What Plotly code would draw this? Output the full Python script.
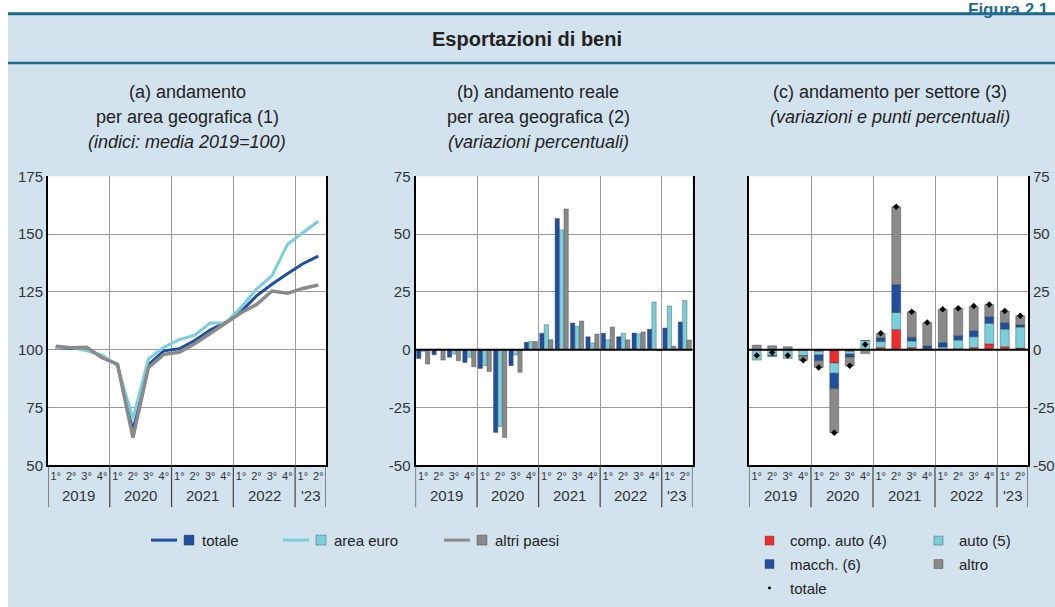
import plotly.graph_objects as go

W, H = 1055, 607
FONT = "Liberation Sans, Arial, sans-serif"

# ---------------- data ----------------
quarter_labels = ["1°", "2°", "3°", "4°"] * 4 + ["1°", "2°"]
year_labels = ["2019", "2020", "2021", "2022", "'23"]
year_centers = [1.5, 5.5, 9.5, 13.5, 16.5]
year_bounds = [3.5, 7.5, 11.5, 15.5]
qidx = list(range(18))

# (a) indices, 2019 average = 100
idx_totale = [101.0, 100.5, 100.5, 97.0, 93.5, 65.0, 93.5, 99.5, 100.4, 104.0, 108.5, 111.8,
              116.5, 123.3, 128.3, 132.9, 137.2, 140.5]
idx_euro = [100.8, 101.0, 99.5, 97.8, 93.0, 70.0, 96.0, 101.0, 104.3, 106.3, 111.5, 111.5,
            118.3, 126.2, 132.0, 145.5, 150.6, 155.6]
idx_altri = [101.5, 100.8, 101.0, 96.5, 93.7, 62.0, 92.2, 98.0, 98.9, 102.6, 107.0, 111.4,
             116.0, 119.5, 125.4, 124.4, 126.5, 128.0]

# (b) real changes, %
var_totale = [-3.8, -2.2, -3.3, -5.5, -8.1, -35.8, -6.9, 3.2, 7.1, 56.8, 11.5, 5.6,
              7.1, 5.6, 7.2, 8.8, 9.4, 12.0]
var_euro = [-0.7, 0.3, -1.9, -3.3, -6.9, -33.2, -2.3, 3.5, 10.8, 51.8, 10.1, 2.9,
            4.3, 7.1, 6.8, 20.6, 18.9, 21.3]
var_altri = [-6.2, -4.5, -4.8, -7.4, -9.4, -38.0, -9.8, 3.5, 4.3, 60.9, 12.4, 6.8,
             9.8, 4.3, 7.7, -0.5, 1.5, 4.2]

# (c) by sector, contributions (percentage points)
sett_comp_auto = [0.0, 0.0, 0.0, 0.0, -0.7, -5.8, -0.7, 0.0, 1.0, 8.7, 0.9, 0.1,
                  0.2, 0.4, 1.0, 2.5, 1.3, 0.7]
sett_auto = [-4.5, -2.5, -3.8, -2.6, -1.6, -4.4, -1.2, 4.0, 2.5, 7.4, 2.9, 0.3,
             1.0, 3.8, 4.6, 8.9, 7.6, 9.1]
sett_macch = [0.0, -0.4, 0.0, -0.2, -2.5, -6.7, -1.3, 0.0, 1.7, 12.1, 1.6, 1.2,
              1.9, 1.9, 2.6, 2.9, 2.7, 1.0]
sett_altro = [2.0, 1.7, 1.3, -1.8, -2.9, -19.0, -3.8, -1.7, 1.8, 33.7, 11.0, 10.2,
              14.4, 11.8, 10.5, 5.3, 5.1, 3.9]
sett_totale = [-2.5, -1.2, -2.5, -4.6, -7.7, -35.9, -7.0, 2.3, 7.1, 61.8, 16.4, 11.8,
               17.5, 17.9, 18.9, 19.6, 16.7, 14.7]

ya_vals = [50, 75, 100, 125, 150, 175]
ya_text = ["50", "75", "100", "125", "150", "175"]
yb_vals = [-50, -25, 0, 25, 50, 75]
yb_text = ["-50", "-25", "0", "25", "50", "75"]

# ---------------- styles ----------------
C_TOT = "#1f4f9e"
C_EURO = "#7bcfdb"
C_ALTRI = "#8a8a8a"
C_RED = "#ec2d2d"
BG = "#d3e3ed"
TEAL = "#1f6b8c"
GRID = "#9a9a9a"
OUTLINE = dict(color="rgba(60,60,60,0.65)", width=0.6)


def px(x):
    return x / W


def py(y):
    # target picture y (pixels from top) -> paper fraction
    t = (y - 7.8) / 0.974
    return 1 - t / H


YDOM = [py(465), py(175.5)]
XDOM_A = [px(48), px(326)]
XDOM_B = [px(415.5), px(692.5)]
XDOM_C = [px(749), px(1028)]

fig = go.Figure()

# ---- panel (a) lines ----
for name, vals, col, w in [("totale", idx_totale, C_TOT, 3),
                           ("area euro", idx_euro, C_EURO, 3),
                           ("altri paesi", idx_altri, C_ALTRI, 3.5)]:
    fig.add_trace(go.Scatter(x=qidx, y=vals, mode="lines", name=name,
                             line=dict(color=col, width=w), xaxis="x", yaxis="y",
                             showlegend=False))

# ---- panel (b) grouped bars (each series on its own overlaid x axis) ----
for name, vals, col, xa, off in [("totale", var_totale, C_TOT, "x2", -0.43),
                                 ("area euro", var_euro, C_EURO, "x4", -0.14),
                                 ("altri paesi", var_altri, C_ALTRI, "x5", 0.15)]:
    fig.add_trace(go.Bar(x=qidx, y=vals, name=name, marker=dict(color=col, line=OUTLINE),
                         width=0.28, offset=off, xaxis=xa, yaxis="y2", showlegend=False))

# ---- panel (c) stacked bars ----
for name, vals, col in [("comp. auto (4)", sett_comp_auto, C_RED),
                        ("auto (5)", sett_auto, C_EURO),
                        ("macch. (6)", sett_macch, C_TOT),
                        ("altro", sett_altro, C_ALTRI)]:
    fig.add_trace(go.Bar(x=qidx, y=vals, name=name, marker=dict(color=col, line=OUTLINE),
                         xaxis="x3", yaxis="y3", showlegend=False))
fig.add_trace(go.Scatter(x=qidx, y=sett_totale, mode="markers", name="totale",
                         marker=dict(symbol="diamond", size=5, color="black"),
                         xaxis="x3", yaxis="y3", showlegend=False))


def xaxis_cfg(dom):
    return dict(domain=dom, range=[-0.5, 17.5], tickmode="array", tickvals=qidx,
                ticktext=quarter_labels, showgrid=False, ticks="", zeroline=False,
                showline=True, linecolor="black", linewidth=2,
                tickfont=dict(size=11, color="#333", family=FONT),
                minor=dict(tickmode="array", tickvals=year_bounds, showgrid=True,
                           gridcolor=GRID, gridwidth=1, ticks=""))


def yaxis_cfg(rng, vals, text, anchor, side="left"):
    return dict(domain=YDOM, range=rng, tickmode="array", tickvals=vals, ticktext=text,
                anchor=anchor, side=side, showgrid=True, gridcolor=GRID, gridwidth=1,
                ticks="", zeroline=False, showline=True, linecolor="black", linewidth=2,
                mirror=True, tickfont=dict(size=15, color="#333", family=FONT))


fig.update_layout(
    xaxis=xaxis_cfg(XDOM_A),
    yaxis=yaxis_cfg([50, 175], ya_vals, ya_text, "x"),
    yaxis6=dict(overlaying="y", anchor="x", side="right", range=[50, 175], tickmode="array",
                tickvals=ya_vals, ticktext=ya_text, showgrid=False, zeroline=False,
                showline=False, ticks="", tickfont=dict(size=15, color="#333", family=FONT)),
    xaxis2=xaxis_cfg(XDOM_B),
    yaxis2=yaxis_cfg([-50, 75], yb_vals, yb_text, "x2"),
    xaxis4=dict(overlaying="x2", matches="x2", visible=False, domain=XDOM_B),
    xaxis5=dict(overlaying="x2", matches="x2", visible=False, domain=XDOM_B),
    xaxis3=xaxis_cfg(XDOM_C),
    yaxis3=yaxis_cfg([-50, 75], yb_vals, yb_text, "x3", side="right"),
    barmode="relative",
    bargap=0.42,
    width=W, height=H,
    margin=dict(l=0, r=0, t=0, b=0),
    paper_bgcolor=BG, plot_bgcolor="white",
    font=dict(family=FONT, color="#222"),
    showlegend=False,
)

shapes = []
annots = []

# header and white page margins
shapes.append(dict(type="rect", xref="paper", yref="paper", x0=0, x1=1, y0=py(11), y1=1.05,
                   fillcolor="white", line=dict(width=0), layer="below"))
shapes.append(dict(type="rect", xref="paper", yref="paper", x0=0, x1=px(8), y0=-0.05, y1=1.05,
                   fillcolor="white", line=dict(width=0), layer="below"))
shapes.append(dict(type="line", xref="paper", yref="paper", x0=px(8), x1=1, y0=py(12.5), y1=py(12.5),
                   line=dict(color=TEAL, width=3)))
shapes.append(dict(type="line", xref="paper", yref="paper", x0=px(8), x1=1, y0=py(62), y1=py(62),
                   line=dict(color=TEAL, width=2.5)))
annots.append(dict(text="<b>Figura 2.1</b>", xref="paper", yref="paper", x=px(966), y=1,
                   xanchor="left", yanchor="middle", showarrow=False,
                   font=dict(size=17, color=TEAL)))
annots.append(dict(text="<b>Esportazioni di beni</b>", xref="paper", yref="paper", x=px(527), y=py(38),
                   xanchor="center", yanchor="middle", showarrow=False,
                   font=dict(size=20, color="#222")))

# panel titles
titles = [
    (187, ["(a) andamento", "per area geografica (1)", "<i>(indici: media 2019=100)</i>"]),
    (538, ["(b) andamento reale", "per area geografica (2)", "<i>(variazioni percentuali)</i>"]),
    (890, ["(c) andamento per settore (3)", "<i>(variazioni e punti percentuali)</i>"]),
]
for cx, lines in titles:
    for i, t in enumerate(lines):
        annots.append(dict(text=t, xref="paper", yref="paper", x=px(cx), y=py(91 + 25 * i),
                           xanchor="center", yanchor="middle", showarrow=False,
                           font=dict(size=18, color="#222")))

# year labels and dividers below the axes
for xa in ["x", "x2", "x3"]:
    for xc, lab in zip(year_centers, year_labels):
        annots.append(dict(text=lab, xref=xa, yref="paper", x=xc, y=py(495),
                           xanchor="center", yanchor="middle", showarrow=False,
                           font=dict(size=15, color="#333")))
    for xb in [-0.5] + year_bounds + [17.5]:
        shapes.append(dict(type="line", xref=xa, yref="paper", x0=xb, x1=xb,
                           y0=py(465), y1=py(507), line=dict(color="#444", width=1.2)))

# zero lines above bars
for xa, ya in [("x2", "y2"), ("x3", "y3")]:
    shapes.append(dict(type="line", xref=xa + " domain", yref=ya, x0=0, x1=1, y0=0, y1=0,
                       line=dict(color="black", width=2), layer="above"))

# legend panel a/b
leg1 = [(151, "totale", C_TOT), (283, "area euro", C_EURO), (444, "altri paesi", C_ALTRI)]
for x0, lab, col in leg1:
    shapes.append(dict(type="line", xref="paper", yref="paper", x0=px(x0), x1=px(x0 + 26),
                       y0=py(540), y1=py(540), line=dict(color=col, width=3)))
    shapes.append(dict(type="rect", xref="paper", yref="paper", x0=px(x0 + 33), x1=px(x0 + 43),
                       y0=py(545), y1=py(535), fillcolor=col, line=OUTLINE))
    annots.append(dict(text=lab, xref="paper", yref="paper", x=px(x0 + 49), y=py(540),
                       xanchor="left", yanchor="middle", showarrow=False,
                       font=dict(size=15, color="#222")))

# legend panel c
leg2 = [(765, 540.5, "comp. auto (4)", C_RED), (934, 540.5, "auto (5)", C_EURO),
        (765, 564, "macch. (6)", C_TOT), (934, 564, "altro", C_ALTRI)]
for x0, yc, lab, col in leg2:
    shapes.append(dict(type="rect", xref="paper", yref="paper", x0=px(x0), x1=px(x0 + 9),
                       y0=py(yc + 4.5), y1=py(yc - 4.5), fillcolor=col, line=OUTLINE))
    annots.append(dict(text=lab, xref="paper", yref="paper", x=px(x0 + 23), y=py(yc),
                       xanchor="left", yanchor="middle", showarrow=False,
                       font=dict(size=15, color="#222")))
shapes.append(dict(type="circle", xref="paper", yref="paper", x0=px(768), x1=px(771),
                   y0=py(589.5), y1=py(586.5), fillcolor="black", line=dict(width=0)))
annots.append(dict(text="totale", xref="paper", yref="paper", x=px(788), y=py(588),
                   xanchor="left", yanchor="middle", showarrow=False,
                   font=dict(size=15, color="#222")))

fig.update_layout(shapes=shapes, annotations=annots)

POST = (
    "document.documentElement.style.margin='0';"
    "document.documentElement.style.padding='0';"
    "document.documentElement.style.overflow='hidden';"
    "document.documentElement.style.background='linear-gradient(#ffffff 50%, " + BG + " 50%)';"
    "document.body.style.margin='0';document.body.style.padding='0';"
    "document.body.style.overflow='hidden';document.body.style.background='transparent';"
    "var d=document.getElementById('{plot_id}');"
    "d.style.position='fixed';d.style.top='0px';d.style.left='0px';"
)
fig.write_html("out.html", config={"displayModeBar": False}, post_script=POST)
